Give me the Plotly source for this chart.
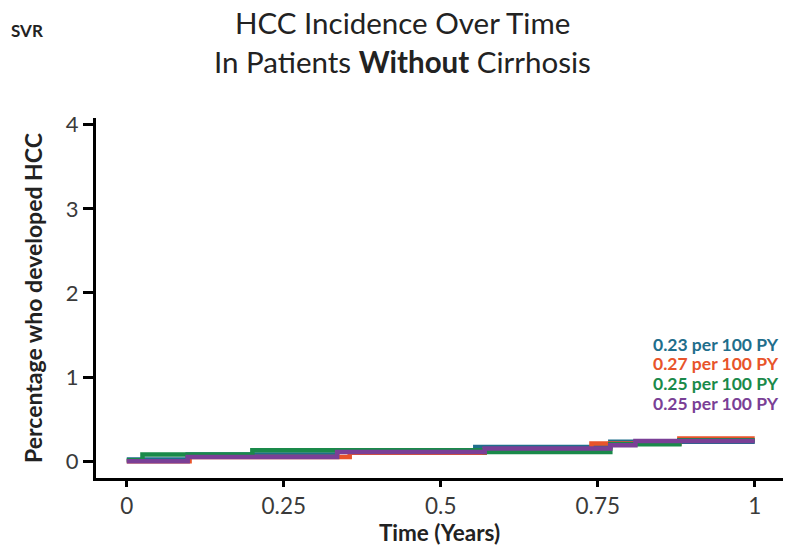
import plotly.graph_objects as go

# ---- data ----
series_names = ["Group A", "Group B", "Group C", "Group D"]
series_colors = ["#1f6e8c", "#e8542b", "#1a8a4a", "#7a3f96"]
blue_x = [0, 0.097, 0.335, 0.555, 0.77, 1.0]
blue_y = [0.02, 0.08, 0.12, 0.17, 0.23, 0.23]
orange_x = [0, 0.10, 0.355, 0.57, 0.74, 0.88, 1.0]
orange_y = [0.0, 0.05, 0.10, 0.14, 0.21, 0.27, 0.27]
green_x = [0, 0.025, 0.20, 0.57, 0.77, 0.88, 1.0]
green_y = [0.01, 0.08, 0.13, 0.11, 0.20, 0.25, 0.25]
purple_x = [0, 0.097, 0.335, 0.57, 0.77, 0.81, 1.0]
purple_y = [0.0, 0.05, 0.11, 0.15, 0.19, 0.24, 0.24]
rate_labels = ["0.23 per 100 PY", "0.27 per 100 PY", "0.25 per 100 PY", "0.25 per 100 PY"]
x_ticks = [0, 0.25, 0.5, 0.75, 1]
x_tick_text = ["0", "0.25", "0.5", "0.75", "1"]
y_ticks = [0, 1, 2, 3, 4]

xs = [blue_x, orange_x, green_x, purple_x]
ys = [blue_y, orange_y, green_y, purple_y]

fig = go.Figure()
for name, color, x, y in zip(series_names, series_colors, xs, ys):
    fig.add_trace(go.Scatter(x=x, y=y, mode="lines", name=name,
                             line=dict(color=color, width=4.5, shape="hv")))

FONT = "Lato"
W, H = 792, 547
L, R, T, B = 96, 9, 118, 66
pw, ph = W - L - R, H - T - B

def px(x):
    return (x - L) / pw

def py(y):
    return (H - B - y) / ph

annos = []
label_ys = [346, 366, 386, 406]
for txt, col, yy in zip(rate_labels, series_colors, label_ys):
    annos.append(dict(text="<b>%s</b>" % txt, x=px(781), y=py(yy), xref="paper", yref="paper",
                      xanchor="right", yanchor="middle", showarrow=False,
                      font=dict(family=FONT, size=17.5, color=col)))
annos.append(dict(text="HCC Incidence Over Time", x=px(402), y=py(22), xref="paper", yref="paper",
                  xanchor="center", yanchor="middle", showarrow=False,
                  font=dict(family=FONT, size=29.5, color="#222222")))
annos.append(dict(text="In Patients <b>Without</b> Cirrhosis", x=px(402), y=py(61), xref="paper", yref="paper",
                  xanchor="center", yanchor="middle", showarrow=False,
                  font=dict(family=FONT, size=29.5, color="#222222")))
annos.append(dict(text="<b>SVR</b>", x=px(9), y=py(30), xref="paper", yref="paper",
                  xanchor="left", yanchor="middle", showarrow=False,
                  font=dict(family=FONT, size=17, color="#222222")))

fig.update_layout(
    width=W, height=H,
    margin=dict(l=L, r=R, t=T, b=B),
    paper_bgcolor="white", plot_bgcolor="white",
    showlegend=False,
    annotations=annos,
    font=dict(family=FONT, color="#333333"),
)
fig.update_xaxes(range=[-0.049, 1.045], tickvals=x_ticks, ticktext=x_tick_text,
                 showgrid=False, zeroline=False, showline=True, linecolor="black", linewidth=3,
                 ticks="outside", ticklen=6, tickwidth=2.5, tickcolor="black",
                 tickfont=dict(family=FONT, size=22.5, color="#3a3a3a"),
                 title=dict(text="<b>Time (Years)</b>", font=dict(family=FONT, size=22.5, color="#222222"), standoff=3))
fig.update_yaxes(range=[-0.2, 4.08], tickvals=y_ticks,
                 showgrid=False, zeroline=False, showline=True, linecolor="black", linewidth=3,
                 ticks="outside", ticklen=10, tickwidth=2.5, tickcolor="black",
                 tickfont=dict(family=FONT, size=22, color="#3a3a3a"),
                 title=dict(text="<b>Percentage who developed HCC</b>", font=dict(family=FONT, size=23, color="#222222"), standoff=17))

fig.write_html("out.html")
